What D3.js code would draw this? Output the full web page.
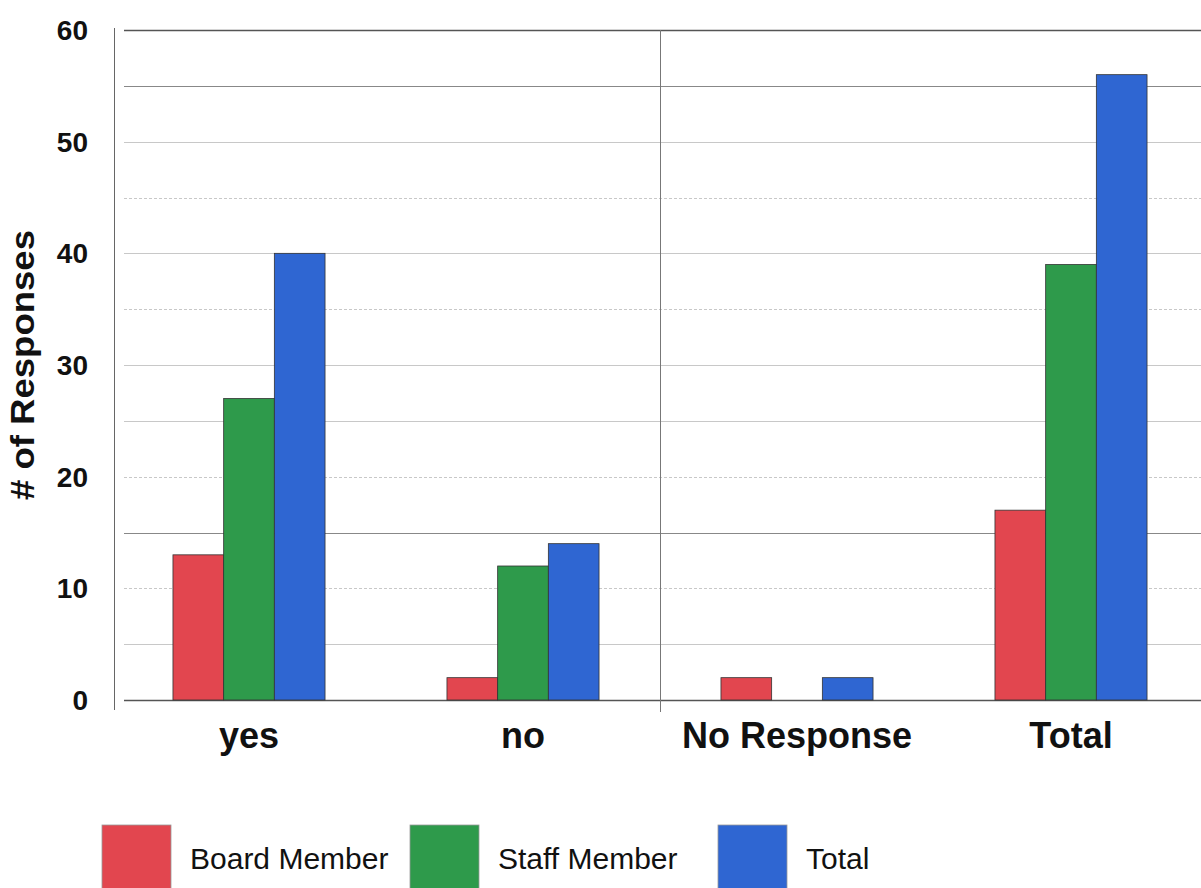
<!DOCTYPE html>
<html>
<head>
<meta charset="utf-8">
<script src="https://cdn.jsdelivr.net/npm/d3@7/dist/d3.min.js"></script>
<style>
  html, body { margin: 0; padding: 0; background: #ffffff; overflow: hidden; }
  svg { display: block; }
</style>
</head>
<body>
<svg id="chart" width="1201" height="888"></svg>
<script>
// ---- data ----
const categories = ["yes", "no", "No Response", "Total"];
const seriesNames = ["Board Member", "Staff Member", "Total"];
const boardMember = [13, 2, 2, 17];
const staffMember = [27, 12, 0, 39];
const totalValues = [40, 14, 2, 56];
const yTickLabels = [0, 10, 20, 30, 40, 50, 60];
const yAxisTitle = "# of Responses";

const seriesValues = [boardMember, staffMember, totalValues];
const colors = ["#e2464f", "#2e9a4b", "#2f66d2"];

const svg = d3.select("#chart");
const font = "'Liberation Sans', Arial, sans-serif";

const plotLeft = 112, plotRight = 1208, plotTop = 30, plotBottom = 700;

const y = d3.scaleLinear().domain([0, 60]).range([plotBottom, plotTop]);
const x0 = d3.scaleBand().domain(categories).range([plotLeft, plotRight])
  .paddingInner(0.445).paddingOuter(0.2225);
const x1 = d3.scaleBand().domain(seriesNames).range([0, x0.bandwidth()]);

// gridlines every 5
const gridVals = d3.range(0, 61, 5);
function gridColor(v) {
  if (v === 60 || v === 0) return "#555";
  if (v === 55 || v === 15) return "#888";
  return "#c8c8c8";
}
function gridDash(v) {
  if (v === 10 || v === 35 || v === 45 || v === 20) return "3,2";
  return null;
}
svg.append("g").selectAll("line").data(gridVals).join("line")
  .attr("x1", 124).attr("x2", 1201)
  .attr("y1", d => Math.round(y(d)) + 0.5).attr("y2", d => Math.round(y(d)) + 0.5)
  .attr("stroke", gridColor)
  .attr("stroke-width", d => (d === 60 || d === 0) ? 1.3 : 1)
  .attr("stroke-dasharray", gridDash);

// y axis line
svg.append("line")
  .attr("x1", 114.5).attr("x2", 114.5)
  .attr("y1", plotTop - 2).attr("y2", plotBottom + 10)
  .attr("stroke", "#666").attr("stroke-width", 1);

// vertical separator between "no" and "No Response"
const sepX = x0("No Response") - x0.step() * x0.paddingInner() / 2;
svg.append("line")
  .attr("x1", Math.round(sepX) + 0.5).attr("x2", Math.round(sepX) + 0.5)
  .attr("y1", plotTop).attr("y2", plotBottom + 12)
  .attr("stroke", "#777").attr("stroke-width", 1);

// bars
const groups = svg.append("g").selectAll("g").data(categories).join("g")
  .attr("transform", c => `translate(${x0(c)},0)`);
groups.selectAll("rect")
  .data((c, i) => seriesNames.map((s, j) => ({ s, j, v: seriesValues[j][i] })))
  .join("rect")
  .filter(d => d.v > 0)
  .attr("x", d => x1(d.s))
  .attr("y", d => y(d.v))
  .attr("width", x1.bandwidth())
  .attr("height", d => y(0) - y(d.v))
  .attr("fill", d => colors[d.j])
  .attr("stroke", "#333")
  .attr("stroke-width", 0.8);

// y tick labels
svg.append("g").selectAll("text").data(yTickLabels).join("text")
  .attr("x", 88).attr("y", d => y(d))
  .attr("dy", "0.36em")
  .attr("text-anchor", "end")
  .attr("font-family", font).attr("font-weight", "bold")
  .attr("font-size", 28).attr("fill", "#111")
  .text(d => d);

// category labels
svg.append("g").selectAll("text").data(categories).join("text")
  .attr("x", c => x0(c) + x0.bandwidth() / 2)
  .attr("y", 748)
  .attr("text-anchor", "middle")
  .attr("font-family", font).attr("font-weight", "bold")
  .attr("font-size", 36).attr("fill", "#111")
  .text(c => c);

// y axis title
svg.append("text")
  .attr("transform", "translate(34,365) rotate(-90)")
  .attr("text-anchor", "middle")
  .attr("font-family", font).attr("font-weight", "bold")
  .attr("font-size", 33).attr("fill", "#111")
  .attr("textLength", 270).attr("lengthAdjust", "spacingAndGlyphs")
  .text(yAxisTitle);

// legend
const legendX = [102, 410, 718];
const legend = svg.append("g").selectAll("g").data(seriesNames).join("g")
  .attr("transform", (d, i) => `translate(${legendX[i]},825)`);
legend.append("rect")
  .attr("width", 69).attr("height", 70)
  .attr("fill", (d, i) => colors[i])
  .attr("stroke", "#999").attr("stroke-width", 0.8);
legend.append("text")
  .attr("x", 88).attr("y", 44)
  .attr("font-family", font).attr("font-size", 30).attr("fill", "#111")
  .text(d => d);
</script>
</body>
</html>
